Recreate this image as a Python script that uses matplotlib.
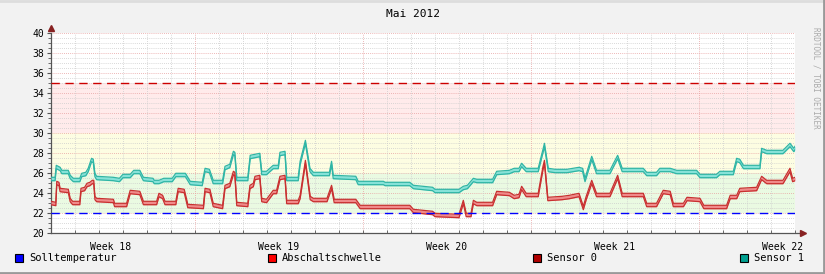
import numpy as np
import matplotlib
matplotlib.use("Agg")
import matplotlib.pyplot as plt
from matplotlib.ticker import MultipleLocator

# days since 1 May 2012 00:00 and temperature readings (degC)
sensor1_days = [0.0, 0.17, 0.22, 0.38, 0.45, 0.72, 0.80, 0.93, 1.20, 1.28, 1.45, 1.55,
                1.69, 1.76, 1.83, 1.90, 2.60, 2.85, 3.00, 3.30, 3.45, 3.70, 3.85, 4.25,
                4.30, 4.50, 4.70, 5.05, 5.20, 5.60, 5.80, 6.30, 6.42, 6.60, 6.76, 7.15,
                7.25, 7.45, 7.60, 7.66, 7.74, 8.20, 8.30, 8.70, 8.78, 8.98, 9.26, 9.47,
                9.54, 9.75, 9.82, 10.30, 10.38, 10.60, 10.79, 10.93, 11.60, 11.69, 11.76,
                12.70, 12.80, 13.85, 13.92, 14.95, 15.10, 15.90, 16.00, 17.00, 17.18,
                17.35, 17.60, 17.74, 18.40, 18.57, 19.10, 19.30, 19.50, 19.61, 19.80,
                20.30, 20.50, 20.56, 20.72, 21.00, 21.50, 22.00, 22.15, 22.25, 22.53,
                22.73, 23.29, 23.61, 23.80, 24.68, 24.82, 25.23, 25.37, 25.80, 26.07,
                26.90, 27.04, 27.73, 27.87, 28.43, 28.57, 28.70, 28.85, 29.54, 29.61,
                29.82, 30.50, 30.79, 30.95, 31.00]
sensor1_vals = [25.4, 25.4, 26.6, 26.4, 26.1, 26.1, 25.6, 25.3, 25.3, 25.8, 25.9, 26.3,
                27.3, 27.2, 25.8, 25.5, 25.4, 25.3, 25.7, 25.7, 26.1, 26.1, 25.4, 25.3,
                25.1, 25.1, 25.3, 25.3, 25.8, 25.8, 25.0, 24.9, 26.3, 26.2, 25.1, 25.1,
                26.5, 26.7, 28.0, 27.9, 25.4, 25.4, 27.6, 27.8, 26.0, 26.0, 26.6, 26.6,
                27.9, 28.0, 25.4, 25.4, 27.0, 29.1, 26.3, 25.9, 25.9, 27.0, 25.6,
                25.5, 25.0, 25.0, 24.9, 24.9, 24.6, 24.4, 24.2, 24.2, 24.5,
                24.6, 25.3, 25.2, 25.2, 26.0, 26.1, 26.3, 26.3, 26.8, 26.3,
                26.3, 28.2, 28.8, 26.3, 26.2, 26.2, 26.4, 26.3, 25.3, 27.5,
                26.1, 26.1, 27.6, 26.3, 26.3, 25.9, 25.9, 26.3, 26.3, 26.1,
                26.1, 25.7, 25.7, 26.0, 26.0, 27.3, 27.2, 26.6, 26.6, 28.3,
                28.1, 28.1, 28.8, 28.3, 28.5]

sensor0_days = [0.0, 0.20, 0.24, 0.33, 0.38, 0.72, 0.80, 0.90, 1.20, 1.25, 1.40, 1.50,
                1.62, 1.72, 1.78, 1.83, 1.90, 2.60, 2.65, 3.15, 3.30, 3.70, 3.85, 4.40,
                4.50, 4.65, 4.75, 5.20, 5.30, 5.55, 5.70, 6.35, 6.42, 6.62, 6.76, 7.15,
                7.25, 7.45, 7.60, 7.66, 7.74, 8.20, 8.29, 8.43, 8.50, 8.70, 8.78, 8.98,
                9.26, 9.40, 9.54, 9.75, 9.82, 10.30, 10.38, 10.60, 10.80, 10.93, 11.50,
                11.69, 11.80, 12.70, 12.88, 13.85, 14.95, 15.10, 15.90, 16.00, 17.00,
                17.18, 17.30, 17.50, 17.60, 17.74, 18.40, 18.57, 19.10, 19.30, 19.50,
                19.61, 19.80, 20.30, 20.50, 20.56, 20.70, 21.30, 21.60, 22.00, 22.18,
                22.30, 22.53, 22.73, 23.29, 23.61, 23.80, 24.68, 24.82, 25.23, 25.51,
                25.80, 25.93, 26.35, 26.50, 27.04, 27.20, 27.73, 28.15, 28.30, 28.57,
                28.70, 29.40, 29.61, 29.82, 30.50, 30.79, 30.90, 31.00]
sensor0_vals = [23.0, 22.9, 25.0, 24.9, 24.3, 24.2, 23.3, 23.0, 23.0, 24.3, 24.4, 24.8,
                24.9, 25.1, 25.1, 23.5, 23.3, 23.2, 22.8, 22.8, 24.1, 24.0, 23.0, 23.0,
                23.8, 23.6, 23.0, 23.0, 24.3, 24.2, 22.7, 22.6, 24.3, 24.2, 22.8, 22.6,
                24.6, 24.8, 26.0, 25.9, 22.9, 22.8, 24.6, 24.8, 25.5, 25.6, 23.3, 23.2,
                24.1, 24.1, 25.5, 25.6, 23.1, 23.1, 23.6, 27.1, 23.5, 23.3, 23.3,
                24.6, 23.2, 23.2, 22.6, 22.6, 22.6, 22.2, 22.0, 21.8, 21.7,
                23.1, 21.8, 21.8, 23.1, 22.9, 22.9, 24.0, 23.9, 23.6, 23.7,
                24.5, 23.8, 23.8, 26.5, 27.1, 23.4, 23.5, 23.6, 23.8, 22.5,
                23.5, 25.1, 23.8, 23.8, 25.6, 23.8, 23.8, 22.8, 22.8, 24.1,
                24.0, 22.8, 22.8, 23.4, 23.3, 22.6, 22.6, 22.6, 23.6, 23.6,
                24.3, 24.4, 25.5, 25.1, 25.1, 26.3, 25.3, 25.4]

soll_temp = 22
abschalt = 35
week_labels = ["Week 18", "Week 19", "Week 20", "Week 21", "Week 22"]
week_label_days = [2.5, 9.5, 16.5, 23.5, 30.5]
week_start_days = [6, 13, 20, 27]
legend_names = ["Solltemperatur", "Abschaltschwelle", "Sensor 0", "Sensor 1"]
legend_colors = ["#0000FF", "#FF0000", "#B00000", "#00A090"]

mono = "DejaVu Sans Mono"
W, H = 825, 274
fig = plt.figure(figsize=(W / 100, H / 100), dpi=100, facecolor="#F2F2F2")

# rrdtool style frame
fig.add_artist(plt.Line2D([0, 1], [1 - 1 / H, 1 - 1 / H], transform=fig.transFigure, color="#DDDDDD", lw=2))
fig.add_artist(plt.Line2D([1 - 1 / W, 1 - 1 / W], [0, 1], transform=fig.transFigure, color="#999999", lw=2))
fig.add_artist(plt.Line2D([0, 1], [1 / H, 1 / H], transform=fig.transFigure, color="#999999", lw=2))

ax = fig.add_axes([51 / W, (H - 233) / H, 744 / W, 200 / H])
ax.set_xlim(0, 31)
ax.set_ylim(20, 40)
ax.set_facecolor("white")

# background zones
ax.axhspan(30, 35, color="#FFEBEB", lw=0, zorder=0)
ax.axhspan(26, 30, color="#FDFDE2", lw=0, zorder=0)
ax.axhspan(22, 26, color="#EAFAE2", lw=0, zorder=0)

# grid
for y in np.arange(20.5, 40.01, 0.5):
    major = abs(y % 2) < 1e-6
    ax.axhline(y, color="#E8A0A0" if major else "#CCCCCC", lw=0.6,
               ls=(0, (1, 1.5)), zorder=1)
for d in range(1, 31):
    major = d in week_start_days
    ax.axvline(d, color="#E8A0A0" if major else "#CCCCCC", lw=0.6,
               ls=(0, (1, 1.5)), zorder=1)

# sensors as outlined bands
def band(days, vals, fill, edge):
    days = np.array(days)
    vals = np.array(vals)
    ax.fill_between(days, vals - 0.17, vals + 0.17, color=fill, lw=0, zorder=3)
    ax.plot(days, vals - 0.17, color=edge, lw=0.9, zorder=4)
    ax.plot(days, vals + 0.17, color=edge, lw=0.9, zorder=4)

band(sensor1_days, sensor1_vals, "#86E2D8", "#2FB5A5")
band(sensor0_days, sensor0_vals, "#F08A8A", "#C83030")

ax.axhline(soll_temp, color=legend_colors[0], lw=1, ls=(0, (6, 4)), zorder=5)
ax.axhline(abschalt, color="#CC0000", lw=1, ls=(0, (6, 4)), zorder=5)

for s in ["top", "right"]:
    ax.spines[s].set_visible(False)
for s in ["left", "bottom"]:
    ax.spines[s].set_color("#555555")
    ax.spines[s].set_linewidth(0.9)
ax.spines["bottom"].set_bounds(0, 31.2)
ax.spines["bottom"].set_clip_on(False)

ax.yaxis.set_major_locator(MultipleLocator(2))
ax.yaxis.set_minor_locator(MultipleLocator(0.5))
ax.set_xticks(range(0, 32), minor=True)
ax.set_xticks([])
ax.tick_params(axis="y", which="major", length=3, color="#555555", labelsize=7, pad=2)
ax.tick_params(axis="y", which="minor", length=2, color="#555555")
ax.tick_params(axis="x", which="minor", length=2, color="#555555", direction="in")
for lbl in ax.get_yticklabels():
    lbl.set_family(mono)

for d, t in zip(week_label_days, week_labels):
    ax.text(d, 18.6, t, ha="center", va="center", fontsize=7, family=mono)

# axis arrows
ax.plot([0], [40.5], marker="^", color="#882222", ms=4, clip_on=False, zorder=6)
ax.plot([31.35], [20], marker=">", color="#882222", ms=4, clip_on=False, zorder=6)

fig.text(413 / W, 1 - 14 / H, "Mai 2012", ha="center", va="center", fontsize=8, family=mono)
fig.text(816 / W, 1 - 78 / H, "RRDTOOL / TOBI OETIKER", ha="center", va="center",
         rotation=270, fontsize=5.5, family=mono, color="#AAAAAA")

# legend row
legend_x = [15, 268, 533, 740]
for x, name, c in zip(legend_x, legend_names, legend_colors):
    fig.patches.append(plt.Rectangle((x / W, 1 - 262 / H), 8 / W, 8 / H, transform=fig.transFigure,
                                     facecolor=c, edgecolor="black", lw=0.8))
    fig.text((x + 14) / W, 1 - 258 / H, name, ha="left", va="center", fontsize=7.5, family=mono)

fig.savefig("out.png", dpi=100, facecolor=fig.get_facecolor())
